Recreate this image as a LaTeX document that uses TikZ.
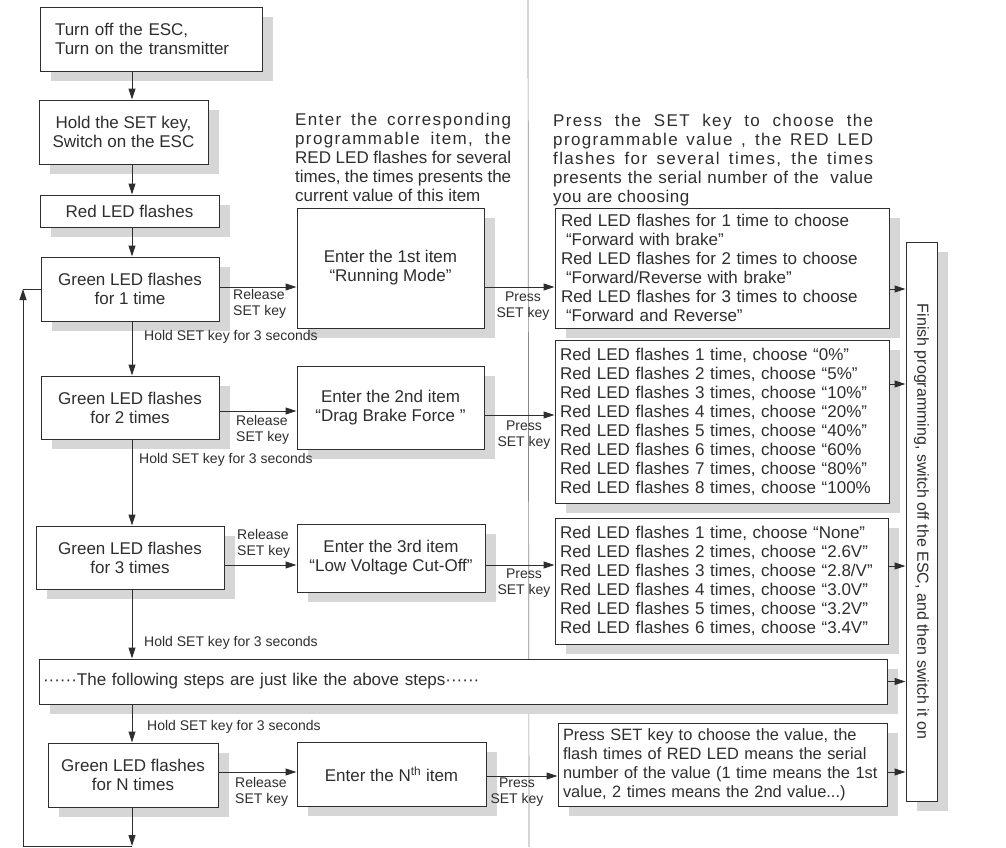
\documentclass[tikz,border=0pt]{standalone}
\usepackage{fontspec}
\setmainfont{Liberation Sans}
\newfontfamily\headfont[LetterSpace=8]{Liberation Sans}
\newfontfamily\headfontb[LetterSpace=3]{Liberation Sans}
\usetikzlibrary{arrows.meta}
\pgfdeclarelayer{background}
\pgfdeclarelayer{paper}
\pgfsetlayers{paper,background,main}
\definecolor{ink}{HTML}{2E2E2E}
\definecolor{shadowgray}{HTML}{D6D6D6}
\definecolor{gutter}{HTML}{8A8A8A}
\newcommand\flowbox[7]{%
  \begin{pgfonlayer}{background}
    \fill[shadowgray] (#2+11,#3+10) rectangle (#4+11,#5+10);
  \end{pgfonlayer}
  \node[box,#6,minimum width={(#4-#2)*1pt},minimum height={(#5-#3)*1pt}] (#1) at ({(#2+#4)/2},{(#3+#5)/2}) {#7};
}
\newcommand\jl[2]{\makebox[#1pt][s]{#2}}
\begin{document}
\begin{tikzpicture}[x=1pt,y=-1pt,
  font=\fontsize{17}{19}\selectfont, text=ink,
  box/.style={draw=ink, line width=1pt, fill=white, inner sep=0pt, align=center},
  arr/.style={draw=ink, line width=1pt, -{Triangle[length=11pt,width=7pt]}},
  conn/.style={draw=ink, line width=1pt},
  lbl/.style={font=\fontsize{14}{16}\selectfont, inner sep=0pt, text=ink},
  head/.style={inner sep=0pt, anchor=north west, align=left, text=ink}]
\useasboundingbox (0,0) rectangle (1006,847);
\begin{pgfonlayer}{paper}
\fill[white] (0,0) rectangle (1006,847);
% page gutter line of the scan
\draw[gutter, line width=0.7pt] (528,0) -- (529,847);
\end{pgfonlayer}

% left column
\flowbox{b1}{40}{7}{262}{71}{text width=192pt, align=left}{Turn off the ESC,\\Turn on the transmitter}
\flowbox{b2}{39}{100}{208}{164}{}{Hold the SET key,\\Switch on the ESC}
\flowbox{b3}{40}{195}{219}{227}{}{Red LED flashes}
\flowbox{b4}{41}{257}{219}{321}{}{Green LED flashes\\for 1 time}
\flowbox{b5}{41}{376}{219}{439}{}{Green LED flashes\\for 2 times}
\flowbox{b6}{36}{526}{224}{589}{}{Green LED flashes\\for 3 times}
\flowbox{fol}{39}{659}{887}{704}{text width=840pt, align=left}{······The following steps are just like the above steps······}
\flowbox{bN}{48}{743}{218}{807}{}{Green LED flashes\\for N times}

% item column
\flowbox{i1}{297}{208}{484}{328}{}{Enter the 1st item\\“Running Mode”}
\flowbox{i2}{297}{366}{484}{449}{}{Enter the 2nd item\\“Drag Brake Force ”}
\flowbox{i3}{297}{524}{485}{592}{}{Enter the 3rd item\\“Low Voltage Cut-Off”}
\flowbox{iN}{297}{742}{486}{806}{}{Enter the N\textsuperscript{th} item}

% value column
\flowbox{v1}{555}{208}{889}{328}{text width=322pt, align=left}{%
\jl{322}{Red LED flashes for 1 time to choose}\\
\hspace*{5pt}“Forward with brake”\\
\jl{322}{Red LED flashes for 2 times to choose}\\
\hspace*{5pt}“Forward/Reverse with brake”\\
\jl{322}{Red LED flashes for 3 times to choose}\\
\hspace*{5pt}“Forward and Reverse”}
\flowbox{v2}{555}{340}{889}{503}{text width=324pt, align=left}{%
Red LED flashes 1 time, choose “0\%”\\
Red LED flashes 2 times, choose “5\%”\\
Red LED flashes 3 times, choose “10\%”\\
Red LED flashes 4 times, choose “20\%”\\
Red LED flashes 5 times, choose “40\%”\\
Red LED flashes 6 times, choose “60\%\\
Red LED flashes 7 times, choose “80\%”\\
Red LED flashes 8 times, choose “100\%}
\flowbox{v3}{555}{518}{888}{644}{text width=323pt, align=left}{%
Red LED flashes 1 time, choose “None”\\
Red LED flashes 2 times, choose “2.6V”\\
Red LED flashes 3 times, choose “2.8/V”\\
Red LED flashes 4 times, choose “3.0V”\\
Red LED flashes 5 times, choose “3.2V”\\
Red LED flashes 6 times, choose “3.4V”}
\flowbox{vN}{558}{723}{887}{806}{text width=319pt, align=left, font=\fontsize{16.4}{19}\selectfont}{%
\jl{319}{Press SET key to choose the value, the}\\
\jl{319}{flash times of RED LED means the serial}\\
\jl{319}{number of the value (1 time means the 1st}\\
value, 2 times means the 2nd value...)}

% finish box
\begin{pgfonlayer}{background}
  \fill[shadowgray] (906+11,242+10) rectangle (937+11,801+10);
\end{pgfonlayer}
\node[box, rotate=-90, minimum width=559pt, minimum height=31pt, font=\fontsize{16}{19}\selectfont] (fin) at (921.5,521.5) {Finish programming, switch off the ESC, and then switch it on};

% headings
\node[head] (h1) at (295,113) {%
{\headfont\jl{216}{Enter the corresponding}}\\
{\headfont\jl{216}{programmable item, the}}\\
\jl{216}{RED LED flashes for several}\\
\jl{216}{times, the times presents the}\\
current value of this item};
\node[head] (h2) at (553,114) {%
{\headfont\jl{320}{Press the SET key to choose the}}\\
{\headfont\jl{320}{programmable value , the RED LED}}\\
{\headfont\jl{320}{flashes for several times, the times}}\\
{\headfontb\jl{320}{presents the serial number of the \ value}}\\
{\headfontb you are choosing}};

% vertical flow
\coordinate (ax) at (132,0);
\coordinate (lx) at (23,0);
\coordinate (bot) at (132,846);
\draw[arr] (b1.south -| ax) -- (b2.north -| ax);
\draw[arr] (b2.south -| ax) -- (b3.north -| ax);
\draw[arr] (b3.south -| ax) -- (b4.north -| ax);
\draw[arr] (b4.south -| ax) -- (b5.north -| ax);
\draw[arr] (b5.south -| ax) -- (b6.north -| ax);
\draw[arr] (b6.south -| ax) -- (fol.north -| ax);
\draw[arr] (fol.south -| ax) -- (bN.north -| ax);
\draw[arr] (bN.south -| ax) -- (bot);
\draw[conn] (bot) -- (bot -| lx);
\draw[arr] (bot -| lx) -- (b4.west -| lx);
\draw[conn] (b4.west -| lx) -- (b4.west);

\node[lbl, anchor=west] (h3a) at (144,337) {Hold SET key for 3 seconds};
\node[lbl, anchor=west] (h3b) at (139,460) {Hold SET key for 3 seconds};
\node[lbl, anchor=west] (h3c) at (144,643) {Hold SET key for 3 seconds};
\node[lbl, anchor=west] (h3d) at (147,727) {Hold SET key for 3 seconds};

% rows
\coordinate (r1) at (0,287);
\coordinate (r2a) at (0,411);
\coordinate (r2b) at (0,415);
\coordinate (r3) at (0,565);
\coordinate (rNa) at (0,772);
\coordinate (rNb) at (0,776);
\draw[arr] (b4.east |- r1) -- (i1.west |- r1);
\draw[arr] (i1.east |- r1) -- (v1.west |- r1);
\draw[arr] (b5.east |- r2a) -- (i2.west |- r2a);
\draw[arr] (i2.east |- r2b) -- (v2.west |- r2b);
\draw[arr] (b6.east |- r3) -- (i3.west |- r3);
\draw[arr] (i3.east |- r3) -- (v3.west |- r3);
\draw[arr] (bN.east |- rNa) -- (iN.west |- rNa);
\draw[arr] (iN.east |- rNb) -- (vN.west |- rNb);

\node[lbl, anchor=north west, align=left] (rl1) at (233,289) {Release\\SET key};
\node[lbl, anchor=north, align=center] (pl1) at (523,292) {Press\\SET key};
\node[lbl, anchor=north west, align=left] (rl2) at (236,415) {Release\\SET key};
\node[lbl, anchor=north, align=center] (pl2) at (524,421) {Press\\SET key};
\node[lbl, anchor=north west, align=left] (rl3) at (237,529) {Release\\SET key};
\node[lbl, anchor=north, align=center] (pl3) at (524,569) {Press\\SET key};
\node[lbl, anchor=north west, align=left] (rlN) at (235,777) {Release\\SET key};
\node[lbl, anchor=north, align=center] (plN) at (517,778) {Press\\SET key};

% into finish box (rotated node: its south side faces west)
\coordinate (f1) at (0,289);
\coordinate (f2) at (0,384);
\coordinate (f3) at (0,566);
\draw[arr] (v1.east |- f1) -- (fin.south |- f1);
\draw[arr] (v2.east |- f2) -- (fin.south |- f2);
\draw[arr] (v3.east |- f3) -- (fin.south |- f3);
\draw[arr] (fol.east) -- (fin.south |- fol.east);
\draw[arr] (vN.east |- rNa) -- (fin.south |- rNa);
\end{tikzpicture}
\end{document}
